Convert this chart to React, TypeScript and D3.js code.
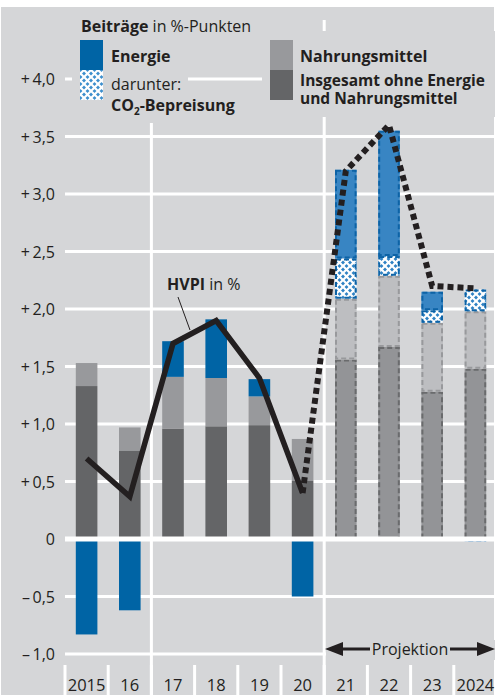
import React from 'react';
import * as d3 from 'd3';

// Beiträge zur HVPI-Rate in %-Punkten
const years = ['2015', '16', '17', '18', '19', '20', '21', '22', '23', '2024'];
const projected = [false, false, false, false, false, false, true, true, true, true];
const core = [1.33, 0.77, 0.96, 0.98, 0.99, 0.51, 1.56, 1.67, 1.28, 1.48];
const food = [0.2, 0.2, 0.45, 0.42, 0.25, 0.36, 0.53, 0.62, 0.6, 0.5];
const co2 = [0, 0, 0, 0, 0, 0, 0.35, 0.17, 0.11, 0.19];
const energy = [-0.83, -0.62, 0.31, 0.51, 0.15, -0.5, 0.77, 1.09, 0.16, -0.02];
const hvpi = [0.7, 0.37, 1.7, 1.9, 1.4, 0.4, 3.2, 3.6, 2.2, 2.18];
const yTicks = [-1, -0.5, 0, 0.5, 1, 1.5, 2, 2.5, 3, 3.5, 4];

const W = 495;
const H = 695;
const BG = '#d5d6d8';
const INK = '#231f20';
const FONT = '"Open Sans", "DejaVu Sans", sans-serif';

const colors: Record<string, { fill: string; stroke: string; pfill: string }> = {
  core: { fill: '#646567', stroke: '#6a6b6d', pfill: '#939497' },
  food: { fill: '#98999c', stroke: '#98999c', pfill: '#bdbec1' },
  co2: { fill: 'url(#co2)', stroke: '#0d63a6', pfill: 'url(#co2p)' },
  energy: { fill: '#0064a5', stroke: '#0d63a6', pfill: '#3885c3' },
};

const rows = years.map((yr, i) => ({
  year: yr,
  proj: projected[i],
  core: core[i],
  food: food[i],
  co2: co2[i],
  energy: energy[i],
}));

const fmtTick = (v: number) => {
  if (v === 0) return '0';
  const s = d3.format('.1f')(Math.abs(v)).replace('.', ',');
  return (v > 0 ? '+\u2009' : '\u2013\u2009') + s;
};

export default function App() {
  const x = d3.scaleBand<string>().domain(years).range([65, 497]).paddingInner(0.5).paddingOuter(0.25);
  const y = d3.scaleLinear().domain([-1, 4]).range([654, 79]);
  const step = x.step();
  const bw = x.bandwidth();

  const series = d3
    .stack<any>()
    .keys(['core', 'food', 'co2', 'energy'])
    .offset(d3.stackOffsetDiverging)(rows);

  const cx = (i: number) => (x(years[i]) ?? 0) + bw / 2;
  const line = d3
    .line<number>()
    .x((_, i) => cx(i))
    .y((d) => y(d));
  const solidPts = hvpi.slice(0, 6);
  const dottedLine = d3
    .line<number>()
    .x((_, i) => cx(i + 5))
    .y((d) => y(d));
  const dottedPts = hvpi.slice(5);

  const boundaries = d3.range(0, 10).map((i) => (x(years[i]) ?? 0) - step * 0.25);
  const fullLines = [boundaries[2], boundaries[6]];

  return (
    <svg
      width={W}
      height={H}
      style={{ position: 'absolute', left: 0, top: 0, background: '#fff' }}
      fontFamily={FONT}
    >
      <defs>
        <pattern id="co2" width="7" height="7" patternUnits="userSpaceOnUse">
          <rect width="7" height="7" fill="#3d8fcd" />
          <path d="M-1,-1 L8,8 M8,-1 L-1,8" stroke="#fff" strokeWidth="2.2" />
        </pattern>
        <pattern id="co2p" width="7" height="7" patternUnits="userSpaceOnUse">
          <rect width="7" height="7" fill="#2f82c4" />
          <path d="M-1,-1 L8,8 M8,-1 L-1,8" stroke="#fff" strokeWidth="2.2" />
        </pattern>
      </defs>

      <rect x={1} y={7} width={493} height={H - 7} fill={BG} />

      {/* gridlines */}
      {yTicks.map((t) => (
        <line key={t} x1={65} x2={W} y1={y(t)} y2={y(t)} stroke="#fff" strokeWidth={t === 0 ? 0 : 3} />
      ))}
      {fullLines.map((bx, i) => (
        <line key={i} x1={bx} x2={bx} y1={20} y2={H} stroke="#fff" strokeWidth={3} />
      ))}
      {boundaries.map((bx, i) => (
        <line key={i} x1={bx} x2={bx} y1={665} y2={H} stroke="#fff" strokeWidth={3} />
      ))}

      {/* bars */}
      {series.map((s) =>
        s.map((d, i) => {
          const v = d[1] - d[0];
          if (Math.abs(v) < 1e-6) return null;
          const c = colors[s.key];
          const p = rows[i].proj;
          const top = y(Math.max(d[0], d[1]));
          const h = Math.abs(y(d[0]) - y(d[1]));
          const bx = x(rows[i].year) ?? 0;
          if (!p)
            return <rect key={s.key + i} x={bx} y={top} width={bw} height={h} fill={c.fill} />;
          return (
            <g key={s.key + i}>
              <rect x={bx} y={top} width={bw} height={h} fill={c.pfill} />
              <rect
                x={bx + 1}
                y={top + 1}
                width={bw - 2}
                height={Math.max(h - 2, 0.5)}
                fill="none"
                stroke={c.stroke}
                strokeWidth={2}
                strokeDasharray="5 3"
              />
            </g>
          );
        })
      )}

      {/* zero line */}
      <line x1={65} x2={W} y1={y(0)} y2={y(0)} stroke="#fff" strokeWidth={5} />

      {/* y tick labels */}
      {yTicks.map((t) => (
        <text key={t} x={55} y={y(t) + 6} textAnchor="end" fontSize={16} fill={INK}>
          {fmtTick(t)}
        </text>
      ))}

      {/* x labels */}
      {years.map((yr, i) => (
        <text key={yr} x={cx(i)} y={691} textAnchor="middle" fontSize={16.5} fill={INK}>
          {yr}
        </text>
      ))}

      {/* HVPI line */}
      <path d={line(solidPts) ?? ''} fill="none" stroke={INK} strokeWidth={5.5} strokeLinejoin="miter" />
      <path
        d={dottedLine(dottedPts) ?? ''}
        fill="none"
        stroke={INK}
        strokeWidth={6}
        strokeDasharray="6 4"
      />
      <line x1={178} y1={297} x2={190} y2={330} stroke={INK} strokeWidth={1} />
      <text x={167} y={290} fontSize={16} fill={INK}>
        <tspan fontWeight="bold">HVPI</tspan>
        <tspan> in %</tspan>
      </text>

      {/* legend masks */}
      <rect x={72} y={8} width={190} height={32} fill={BG} />
      <rect x={72} y={8} width={116} height={115} fill={BG} />
      <rect x={262} y={31} width={233} height={86} fill={BG} />

      {/* legend */}
      <text x={81} y={32} fontSize={16} fill={INK}>
        <tspan fontWeight="bold">Beiträge</tspan>
        <tspan> in %-Punkten</tspan>
      </text>
      <rect x={80} y={40} width={23} height={30} fill={colors.energy.fill} />
      <rect x={80} y={70} width={23} height={30} fill="url(#co2)" />
      <text x={111} y={62} fontSize={16} fontWeight="bold" fill={INK}>Energie</text>
      <text x={111} y={90} fontSize={16} fill={INK}>darunter:</text>
      <text x={111} y={111} fontSize={16} fontWeight="bold" fill={INK}>
        CO<tspan fontSize={10} dy={4}>2</tspan>
        <tspan dy={-4}>-Bepreisung</tspan>
      </text>
      <rect x={270} y={40} width={23} height={30} fill={colors.food.fill} />
      <rect x={270} y={70} width={23} height={30} fill={colors.core.fill} />
      <text x={300} y={62} fontSize={16} fontWeight="bold" fill={INK}>Nahrungsmittel</text>
      <text x={300} y={86} fontSize={15.5} fontWeight="bold" fill={INK}>Insgesamt ohne Energie</text>
      <text x={300} y={104} fontSize={15.5} fontWeight="bold" fill={INK}>und Nahrungsmittel</text>

      {/* Projektion arrow */}
      <rect x={326} y={640} width={170} height={20} fill={BG} />
      <line x1={340} x2={480} y1={649} y2={649} stroke={INK} strokeWidth={3} />
      <path d="M325,649 L343,642 L343,656 Z" fill={INK} />
      <path d="M495,649 L477,642 L477,656 Z" fill={INK} />
      <rect x={370} y={640} width={80} height={20} fill={BG} />
      <text x={410} y={655} textAnchor="middle" fontSize={16} fill={INK}>Projektion</text>
    </svg>
  );
}
